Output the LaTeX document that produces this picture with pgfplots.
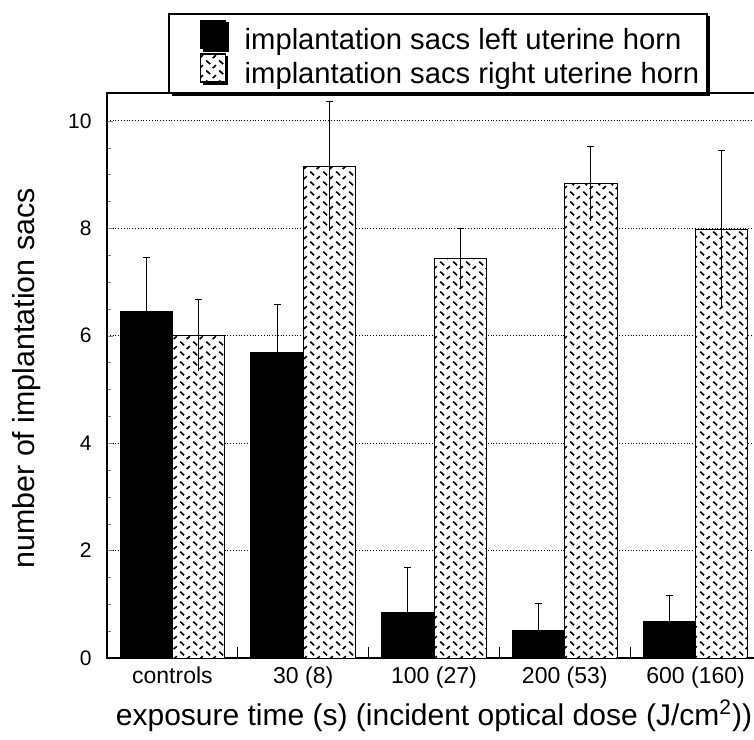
\documentclass[border=0pt]{standalone}
\usepackage{fontspec}
\setmainfont{Liberation Sans}
\usepackage{pgfplots}
\pgfplotsset{compat=1.18}
\usepackage{pgfplotstable}
\usetikzlibrary{calc,patterns,shadows}

% short dashes, alternating \ and /, like the scanned fill
\pgfdeclarepatternformonly{diamondplate}{\pgfpointorigin}{\pgfqpoint{6.4pt}{5pt}}{\pgfqpoint{6.4pt}{5pt}}{%
  \pgfsetlinewidth{0.85pt}%
  \pgfpathmoveto{\pgfqpoint{0.6pt}{4.6pt}}\pgfpathlineto{\pgfqpoint{2.6pt}{2.6pt}}%
  \pgfpathmoveto{\pgfqpoint{3.9pt}{0.5pt}}\pgfpathlineto{\pgfqpoint{5.5pt}{2.1pt}}%
  \pgfusepath{stroke}}

\pgfplotstableread{
x left lefterr right righterr
0 6.45 1.01 6.01 0.66
1 5.69 0.90 9.16 1.21
2 0.85 0.83 7.44 0.56
3 0.51 0.51 8.83 0.70
4 0.68 0.48 7.98 1.47
}\sacs

\begin{document}
\begin{tikzpicture}
\begin{axis}[
  name=ax, scale only axis, width=327pt, height=282.5pt,
  xmin=-0.5, xmax=4.5, ymin=0, ymax=10.52,
  ybar, bar width=0.4,
  xtick={0,1,2,3,4},
  xticklabels={controls,30 (8),100 (27),200 (53),600 (160)},
  xtick style={draw=none},
  extra x ticks={0.5,1.5,2.5,3.5}, extra x tick labels={},
  extra x tick style={xtick style={draw=black, line width=0.6pt}, major tick length=5.5pt, grid=none},
  ytick={0,2,...,10}, minor y tick num=3,
  tick align=inside, tick pos=left,
  major tick length=3pt, minor tick length=2pt,
  ymajorgrids, major grid style={densely dotted, line width=0.45pt, black},
  axis line style={line width=1pt},
  /pgf/number format/assume math mode=true,
  yticklabel style={font=\fontsize{10.5}{12}\selectfont, inner xsep=0pt, xshift=-7.5pt},
  xticklabel style={font=\fontsize{11.5}{13}\selectfont, anchor=base, yshift=-12.5pt},
  ylabel={number of implantation sacs},
  ylabel style={at={(axis description cs:-0.1116,0.495)}, anchor=base, font=\fontsize{15.2}{17}\selectfont},
  legend style={at={(axis description cs:0.0933,1.1416)}, anchor=north west,
    draw=black, line width=0.9pt, fill=white,
    font=\fontsize{14.6}{15}\selectfont,
    inner xsep=2pt, inner ysep=3pt, row sep=0pt,
    nodes={inner ysep=0.6pt},
    drop shadow={shadow xshift=1.3pt, shadow yshift=-1.3pt, opacity=1, fill=black}},
  legend cell align=left,
  legend image code/.code={\path (0pt,0pt) (33pt,0pt); \draw[#1, line width=0.4pt] (13.5pt,-4pt) rectangle (25.7pt,10pt);},
]
\addplot[fill=black, draw=black, bar shift=-0.2,
  error bars/.cd, y dir=plus, y explicit,
  error bar style={draw=black, line width=0.5pt},
  error mark options={rotate=90, draw=black, line width=0.5pt, mark size=1.75pt}]
  table[x=x, y=left, y error=lefterr] {\sacs};
\addlegendentry{implantation sacs left uterine horn}
\addplot[draw=none, fill=none, bar shift=-0.2, forget plot,
  error bars/.cd, y dir=minus, y explicit, error mark=none,
  error bar style={draw=black, line width=0.5pt}]
  table[x=x, y=left, y error=lefterr] {\sacs};
\addplot[draw=black, line width=0.5pt, preaction={fill=white}, pattern=diamondplate, pattern color=black, bar shift=0.2,
  error bars/.cd, y dir=plus, y explicit,
  error bar style={draw=black, line width=0.5pt},
  error mark options={rotate=90, draw=black, line width=0.5pt, mark size=1.75pt}]
  table[x=x, y=right, y error=righterr] {\sacs};
\addlegendentry{implantation sacs right uterine horn}
\addplot[draw=none, fill=none, bar shift=0.2, forget plot,
  error bars/.cd, y dir=minus, y explicit, error mark=none,
  error bar style={draw=black, line width=0.5pt}]
  table[x=x, y=right, y error=righterr] {\sacs};
\end{axis}
% x axis title, centred under the full (partly cropped) axis
\node[anchor=base, font=\fontsize{15}{17}\selectfont]
  at ($(ax.south west)+(163.5pt,-33.5pt)$)
  {exposure time (s) (incident optical dose (J/cm\textsuperscript{2}))};
\pgfresetboundingbox
\useasboundingbox ($(ax.south west)+(-53.5pt,-40.5pt)$) rectangle ($(ax.south west)+(323.5pt,329pt)$);
\end{tikzpicture}
\end{document}
